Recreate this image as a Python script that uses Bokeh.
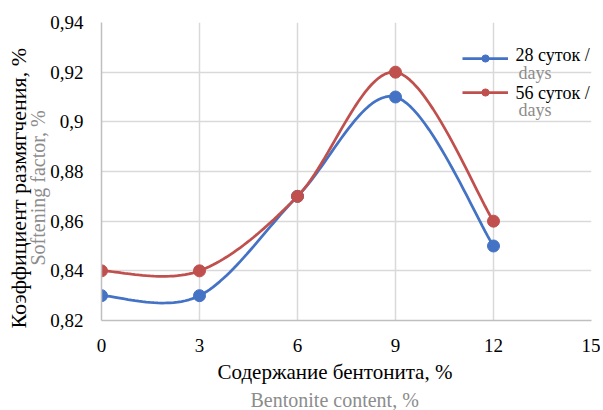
import numpy as np
from bokeh.plotting import figure
from bokeh.models import (LinearAxis, FixedTicker, Range1d, Legend, LegendItem,
                          Label, Title, CustomJSTickFormatter)
from bokeh.embed import file_html
from bokeh.resources import INLINE

# ---- data ----
bentonite = [0, 3, 6, 9, 12]
days28 = [0.83, 0.83, 0.87, 0.91, 0.85]
days56 = [0.84, 0.84, 0.87, 0.92, 0.86]
x_ticks = [0, 3, 6, 9, 12, 15]
y_ticks = [0.82, 0.84, 0.86, 0.88, 0.90, 0.92, 0.94]
series_names = ["28 суток /", "56 суток /"]
series_sub = ["days", "days"]
colors = ["#4472C4", "#C0504D"]
x_title = ["Содержание бентонита, %", "Bentonite content, %"]
y_title = ["Коэффициент размягчения, %", "Softening factor, %"]

FONT = "Liberation Serif"
GRAY = "#8C8C8C"


def smooth(xs, ys, n=30):
    """Excel-like smoothed line (cardinal Bezier) through the data points."""
    P = np.column_stack([np.asarray(xs, float), np.asarray(ys, float)])
    out = []
    m = len(P)
    for i in range(m - 1):
        p0 = P[i - 1] if i > 0 else P[i]
        p1 = P[i]
        p2 = P[i + 1]
        p3 = P[i + 2] if i + 2 < m else P[i + 1]
        c1 = p1 + (p2 - p0) / 6.0
        c2 = p2 - (p3 - p1) / 6.0
        t = np.linspace(0, 1, n)[:, None]
        seg = ((1 - t) ** 3) * p1 + 3 * ((1 - t) ** 2) * t * c1 + 3 * (1 - t) * t ** 2 * c2 + t ** 3 * p2
        if i > 0:
            seg = seg[1:]
        out.append(seg)
    pts = np.vstack(out)
    return pts[:, 0], pts[:, 1]


p = figure(width=600, height=410, output_backend="svg", toolbar_location=None,
           x_range=Range1d(0, 15), y_range=Range1d(0.82, 0.94),
           x_axis_location=None, y_axis_location=None,
           min_border_left=101, min_border_right=9, min_border_top=22, min_border_bottom=89)
p.outline_line_color = None
p.background_fill_color = "white"
p.border_fill_color = "white"


def make_axis(ticks, standoff):
    return LinearAxis(ticker=FixedTicker(ticks=ticks),
                      axis_line_color="#BFBFBF", axis_line_width=1.5,
                      major_tick_line_color=None, minor_tick_line_color=None,
                      major_label_text_font=FONT, major_label_text_font_size="19px",
                      major_label_text_color="black", major_label_standoff=standoff)


xax = make_axis(x_ticks, 12)
p.add_layout(xax, "below")
yax = make_axis(y_ticks, 12)
yax.formatter = CustomJSTickFormatter(code="""
var s = (Math.round(tick*100)/100).toString();
return s.replace('.', ',');
""")
p.add_layout(yax, "left")


def make_title(text, color, size, offset, standoff):
    return Title(text=text, text_font=FONT, text_font_size=size, text_font_style="normal",
                 text_color=color, align="left", offset=offset, standoff=standoff)


# axis titles (two lines, two colours)
p.add_layout(make_title(x_title[0], "black", "21px", 116, 6), "below")
p.add_layout(make_title(x_title[1], GRAY, "20px", 149, 0), "below")
p.add_layout(make_title(y_title[1], GRAY, "20px", 55, -3), "left")
p.add_layout(make_title(y_title[0], "black", "22px", -8, -9), "left")

p.xgrid.grid_line_color = "#D9D9D9"
p.ygrid.grid_line_color = "#D9D9D9"
p.xgrid.grid_line_width = 1.5
p.ygrid.grid_line_width = 1.5
p.xgrid.ticker = FixedTicker(ticks=x_ticks)
p.ygrid.ticker = FixedTicker(ticks=y_ticks)

items = []
for ys, c in zip([days28, days56], colors):
    sx, sy = smooth(bentonite, ys)
    ln = p.line(sx, sy, line_color=c, line_width=2.75)
    sc = p.scatter(bentonite, ys, size=12, fill_color=c, line_color=c)
    items.append(LegendItem(label=" ", renderers=[ln, sc]))

legend = Legend(items=items, location=(361, 219), background_fill_alpha=0,
                border_line_color=None, label_text_font=FONT, label_text_font_size="18px",
                glyph_width=46, spacing=16, margin=0,
                padding=0, label_standoff=0, label_height=18, glyph_height=18)
p.add_layout(legend, "center")

main_y = [266, 228]
sub_y = [248, 211]
for i in range(2):
    p.add_layout(Label(x=414, y=main_y[i], x_units="screen", y_units="screen",
                       text=series_names[i], text_font=FONT, text_font_size="18px",
                       text_baseline="alphabetic", text_color="black"))
    p.add_layout(Label(x=417, y=sub_y[i], x_units="screen", y_units="screen",
                       text=series_sub[i], text_font=FONT, text_font_size="18px",
                       text_baseline="alphabetic", text_color=GRAY))

open("out.html", "w").write(file_html(p, INLINE))
